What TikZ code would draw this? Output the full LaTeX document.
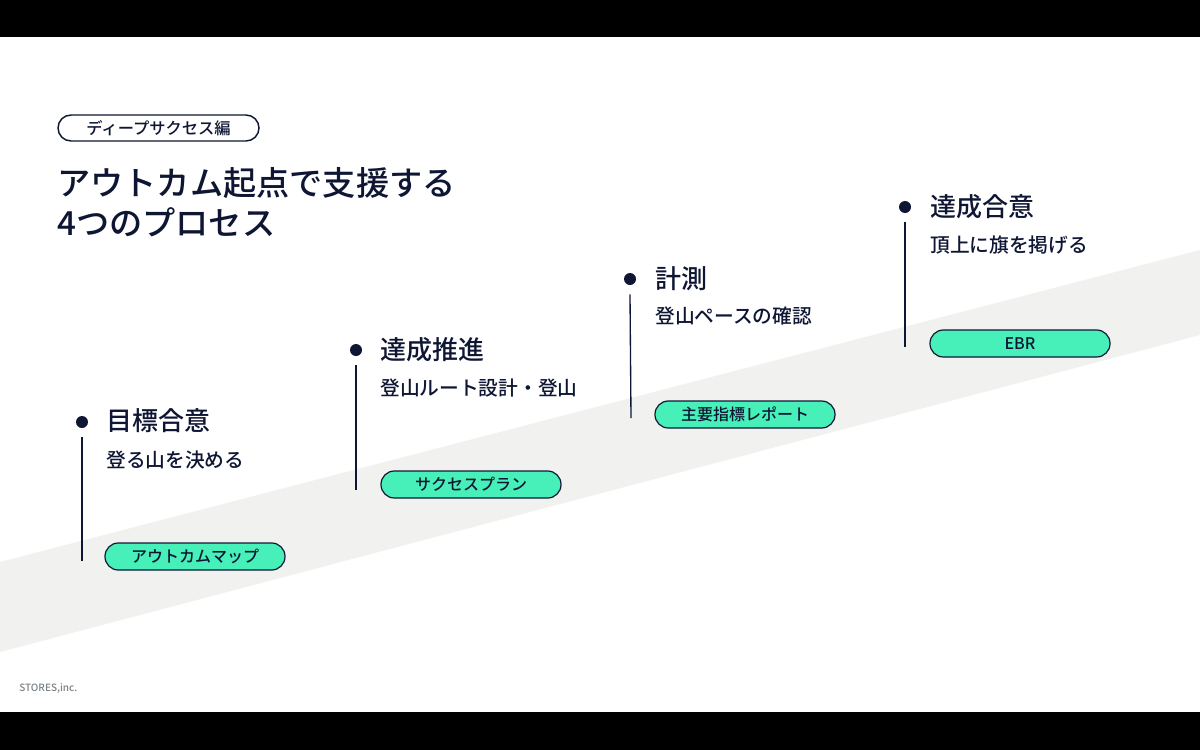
\documentclass[tikz,border=0pt]{standalone}
\usepackage{fontspec}
\setmainfont{Noto Sans CJK JP}
\newfontfamily\jpmedium{Noto Sans CJK JP Medium}
\definecolor{navy}{RGB}{14,22,52}
\definecolor{mint}{RGB}{70,240,184}
\definecolor{bandgray}{RGB}{241,241,239}
\definecolor{footgray}{RGB}{122,130,136}
\tikzset{
  pill/.style={draw=navy,line width=1.1pt,fill=white,rounded corners=9.75pt,minimum width=150.75pt,minimum height=19.5pt,inner sep=0pt,text=navy,font=\jpmedium\fontsize{12.2}{14}\selectfont},
  tagpill/.style={draw=navy,line width=0.9pt,fill=mint,rounded corners=10pt,minimum width=135pt,minimum height=20.25pt,inner sep=0pt,text=navy,font=\jpmedium\fontsize{12}{14}\selectfont},
  stepdot/.style={circle,fill=navy,minimum size=9pt,inner sep=0pt},
  stephead/.style={anchor=west,inner sep=0pt,text=navy,font=\jpmedium\fontsize{19.5}{22}\selectfont},
  stepsub/.style={anchor=west,inner sep=0pt,text=navy,font=\jpmedium\fontsize{14.8}{18}\selectfont},
  stem/.style={draw=navy,line width=1pt}
}
\begin{document}
\begin{tikzpicture}[x=0.75pt,y=0.75pt,yscale=-1,xscale=1]
\useasboundingbox (0,0) rectangle (1200,750);

%Shape: Rectangle [slide]
\fill [white] (0,0) rectangle (1200,750);
\fill [black] (0,0) rectangle (1200,37);
\fill [black] (0,712) rectangle (1200,750);
%Shape: Polygon [band]
\fill [bandgray] (0,562) -- (1200,250) -- (1200,335) -- (0,652) -- cycle;

% Text Node
\node [pill] (series) at (158.5,128) {ディープサクセス編};
% Text Node
\node [anchor=west,inner sep=0pt,text=navy,font=\jpmedium\fontsize{24.9}{29}\selectfont] (title) at (57,183) {アウトカム起点で支援する};
\node [anchor=west,inner sep=0pt,text=navy,font=\jpmedium\fontsize{24.9}{29}\selectfont] (titleb) at (57,222) {4つのプロセス};

%Step 1
\node [stepdot] (dotA) at (82,422) {};
\node [stephead] (headA) at (106,421) {目標合意};
\node [stepsub] (subA) at (106,460) {登る山を決める};
\node [tagpill] (tagA) at (195,556.5) {アウトカムマップ};
\coordinate (stemA) at (82,561);
\draw [stem] (dotA.south) ++(0,9) -- (stemA);

%Step 2
\node [stepdot] (dotB) at (356,350) {};
\node [stephead] (headB) at (380,350) {達成推進};
\node [stepsub] (subB) at (380,388) {登山ルート設計・登山};
\node [tagpill] (tagB) at (471,484.5) {サクセスプラン};
\coordinate (stemB) at (356,490);
\draw [stem] (dotB.south) ++(0,9) -- (stemB);

%Step 3
\node [stepdot] (dotC) at (630,279) {};
\node [stephead] (headC) at (655,279) {計測};
\node [stepsub] (subC) at (655,316) {登山ペースの確認};
\node [tagpill] (tagC) at (745,414.5) {主要指標レポート};
\coordinate (stemC) at (631,418);
\draw [stem] (dotC.south) ++(0,9) -- (stemC);

%Step 4
\node [stepdot] (dotD) at (905,207) {};
\node [stephead] (headD) at (930,207) {達成合意};
\node [stepsub] (subD) at (930,245) {頂上に旗を掲げる};
\node [tagpill] (tagD) at (1020,343.5) {EBR};
\coordinate (stemD) at (905,347);
\draw [stem] (dotD.south) ++(0,9) -- (stemD);

% Text Node
\node [anchor=west,inner sep=0pt,text=footgray,font=\jpmedium\fontsize{7.5}{9}\selectfont] (footer) at (19,689) {STORES,inc.};

\end{tikzpicture}
\end{document}
